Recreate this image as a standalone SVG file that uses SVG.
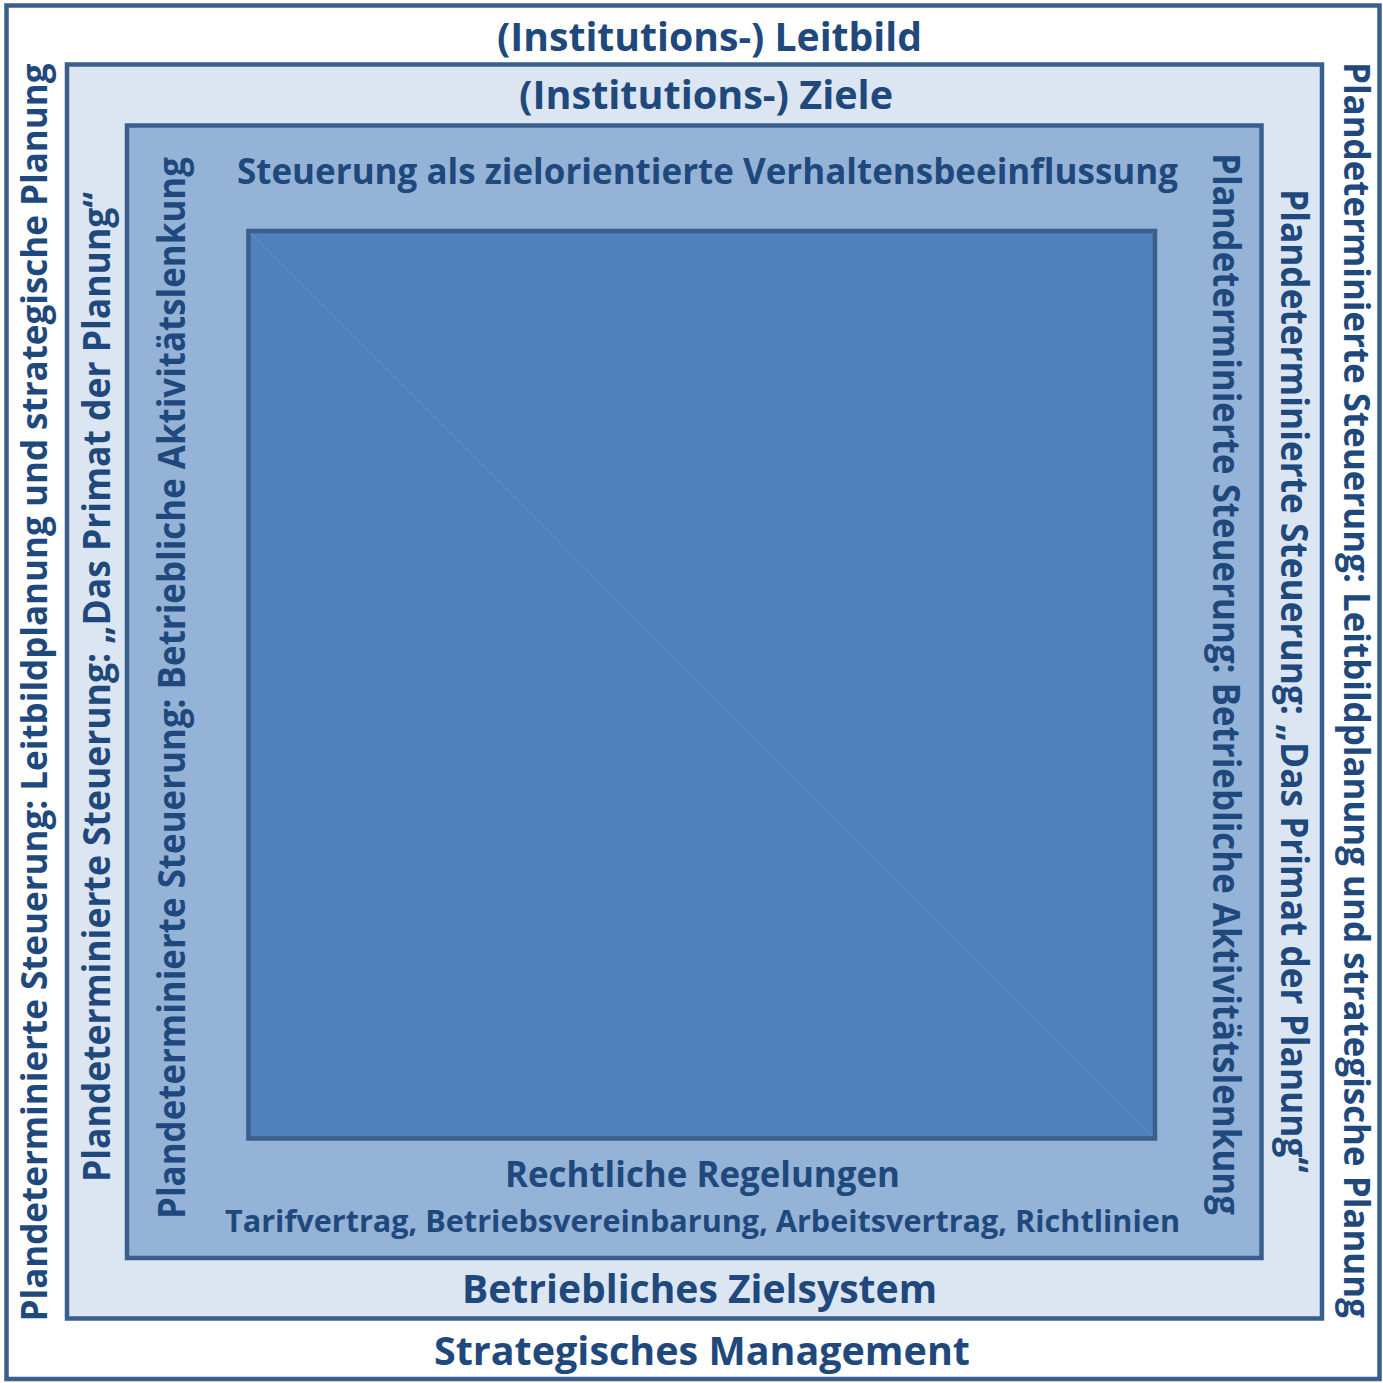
<svg xmlns="http://www.w3.org/2000/svg" width="1383" height="1383" viewBox="0 0 1383 1383">
<style>
.frame{stroke:#3a5f8c;stroke-width:4.5}
.t{font-family:"Open Sans","Liberation Sans",sans-serif;font-weight:700;fill:#1f497d;text-anchor:middle}
.big{font-size:40px}
.mid{font-size:35px}
.sm{font-size:30px}
.v{font-size:38px}
.vo{font-size:36px}
</style>
<rect x="0" y="0" width="1383" height="1383" fill="#ffffff"/>
<g id="strategisches-management">
<rect class="frame" x="6.5" y="5.5" width="1373" height="1373.5" fill="#ffffff"/>
<text class="t big" x="709.5" y="50.5" textLength="425" lengthAdjust="spacingAndGlyphs">(Institutions-) Leitbild</text>
<text class="t big" x="702" y="1365" textLength="536" lengthAdjust="spacingAndGlyphs">Strategisches Management</text>
<text class="t vo" transform="translate(47,692.5) rotate(-90)" textLength="1258" lengthAdjust="spacingAndGlyphs">Plandeterminierte Steuerung: Leitbildplanung und strategische Planung</text>
<text class="t vo" transform="translate(1344,690) rotate(90)" textLength="1256" lengthAdjust="spacingAndGlyphs">Plandeterminierte Steuerung: Leitbildplanung und strategische Planung</text>
</g>
<g id="zielsystem">
<rect class="frame" x="67" y="64.5" width="1255" height="1254" fill="#dce6f2"/>
<text class="t big" x="706" y="109" textLength="374" lengthAdjust="spacingAndGlyphs">(Institutions-) Ziele</text>
<text class="t big" x="699.5" y="1303" textLength="475" lengthAdjust="spacingAndGlyphs">Betriebliches Zielsystem</text>
<text class="t v" transform="translate(110,687) rotate(-90)" textLength="990" lengthAdjust="spacingAndGlyphs">Plandeterminierte Steuerung: „Das Primat der Planung“</text>
<text class="t v" transform="translate(1281,681) rotate(90)" textLength="984" lengthAdjust="spacingAndGlyphs">Plandeterminierte Steuerung: „Das Primat der Planung“</text>
</g>
<g id="steuerung">
<rect class="frame" x="127" y="125.5" width="1134.5" height="1132.5" fill="#95b3d7"/>
<text class="t mid" x="707.5" y="184" textLength="941" lengthAdjust="spacingAndGlyphs">Steuerung als zielorientierte Verhaltensbeeinflussung</text>
<text class="t mid" x="702.5" y="1187" textLength="395" lengthAdjust="spacingAndGlyphs">Rechtliche Regelungen</text>
<text class="t sm" x="702.5" y="1232" textLength="955" lengthAdjust="spacingAndGlyphs">Tarifvertrag, Betriebsvereinbarung, Arbeitsvertrag, Richtlinien</text>
<text class="t v" transform="translate(185,688) rotate(-90)" textLength="1062" lengthAdjust="spacingAndGlyphs">Plandeterminierte Steuerung: Betriebliche Aktivitätslenkung</text>
<text class="t v" transform="translate(1213,684) rotate(90)" textLength="1062" lengthAdjust="spacingAndGlyphs">Plandeterminierte Steuerung: Betriebliche Aktivitätslenkung</text>
</g>
<g id="kern">
<rect class="frame" x="248.5" y="231" width="906.5" height="907.5" fill="#4f81bd"/>
<line x1="251" y1="233.5" x2="1152.5" y2="1136" stroke="#6a96cc" stroke-width="1.5" opacity="0.5"/>
</g>
</svg>
